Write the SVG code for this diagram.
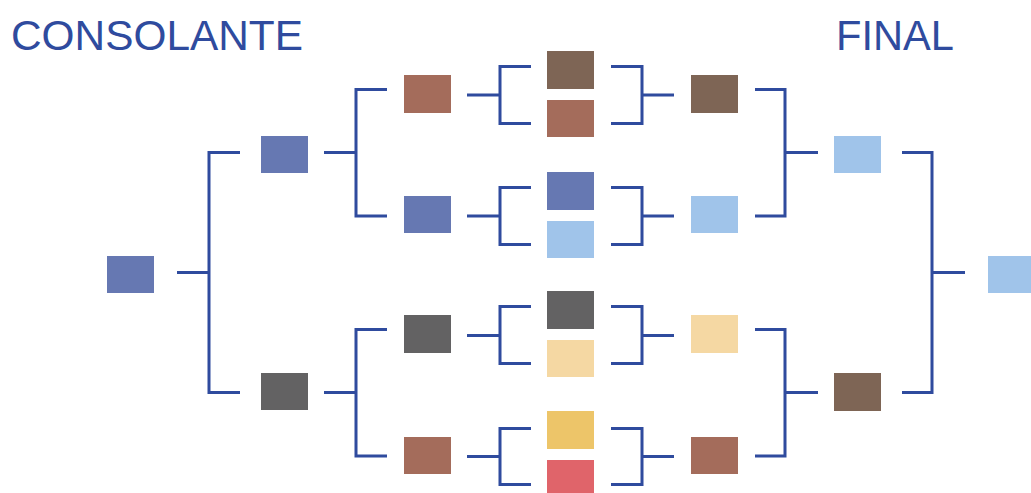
<svg xmlns="http://www.w3.org/2000/svg" width="1031" height="493" viewBox="0 0 1031 493">
<style>
.t{font-family:"Liberation Sans",Arial,sans-serif;font-size:43px;fill:#2F4B9E}
.c path{fill:none;stroke:#2F4B9E;stroke-width:3;stroke-linecap:butt;stroke-linejoin:miter}
.sl{fill:#6678B2}.br{fill:#A46C5B}.db{fill:#7E6555}.lb{fill:#A0C4EA}.dg{fill:#636263}.cr{fill:#F5D8A3}.ye{fill:#EDC569}.rd{fill:#E0646A}
</style>
<rect width="1031" height="493" fill="#FFFFFF"/>
<text class="t" x="11" y="50" textLength="292" lengthAdjust="spacingAndGlyphs">CONSOLANTE</text>
<text class="t" x="836" y="50" textLength="118" lengthAdjust="spacingAndGlyphs">FINAL</text>
<g class="c" id="connectors">
<path d="M177 272.5H209M240 152.5H209V392.5H240"/>
<path d="M324 152.5H356M387 89.5H356V216H387"/>
<path d="M324 392.5H356M387 329.5H356V456H387"/>
<path d="M467 95H500M531 66.5H500V123.5H531"/>
<path d="M467 216H500M531 187.5H500V244.5H531"/>
<path d="M467 335.5H500M531 306.5H500V363.5H531"/>
<path d="M467 456.5H500M531 428.5H500V484.5H531"/>
<path d="M674 95H642M611 66.5H642V123.5H611"/>
<path d="M674 216H642M611 187.5H642V244.5H611"/>
<path d="M674 335.5H642M611 306.5H642V363.5H611"/>
<path d="M674 456.5H642M611 428.5H642V484.5H611"/>
<path d="M818 152.5H785M755 89.5H785V216H755"/>
<path d="M818 392.5H785M755 329.5H785V456H755"/>
<path d="M965 272.5H932M902 152.5H932V392.5H902"/>
</g>
<g id="c0"><rect class="sl" x="107" y="256" width="47" height="37"/></g>
<g id="c1a"><rect class="sl" x="261" y="136" width="47" height="37"/></g>
<g id="c1b"><rect class="dg" x="261" y="373" width="47" height="37"/></g>
<g id="c2a"><rect class="br" x="404" y="75" width="47" height="38"/></g>
<g id="c2b"><rect class="sl" x="404" y="196" width="47" height="37"/></g>
<g id="c2c"><rect class="dg" x="404" y="315" width="47" height="38"/></g>
<g id="c2d"><rect class="br" x="404" y="437" width="47" height="37"/></g>
<g id="m1"><rect class="db" x="547" y="51" width="47" height="38"/></g>
<g id="m2"><rect class="br" x="547" y="100" width="47" height="37"/></g>
<g id="m3"><rect class="sl" x="547" y="172" width="47" height="38"/></g>
<g id="m4"><rect class="lb" x="547" y="221" width="47" height="37"/></g>
<g id="m5"><rect class="dg" x="547" y="291" width="47" height="38"/></g>
<g id="m6"><rect class="cr" x="547" y="340" width="47" height="37"/></g>
<g id="m7"><rect class="ye" x="547" y="411" width="47" height="38"/></g>
<g id="m8"><rect class="rd" x="547" y="460" width="47" height="33"/></g>
<g id="f2a"><rect class="db" x="691" y="75" width="47" height="38"/></g>
<g id="f2b"><rect class="lb" x="691" y="196" width="47" height="37"/></g>
<g id="f2c"><rect class="cr" x="691" y="315" width="47" height="38"/></g>
<g id="f2d"><rect class="br" x="691" y="437" width="47" height="37"/></g>
<g id="f1a"><rect class="lb" x="834" y="136" width="47" height="37"/></g>
<g id="f1b"><rect class="db" x="834" y="373" width="47" height="38"/></g>
<g id="f0"><rect class="lb" x="988" y="256" width="47" height="37"/></g>
</svg>
